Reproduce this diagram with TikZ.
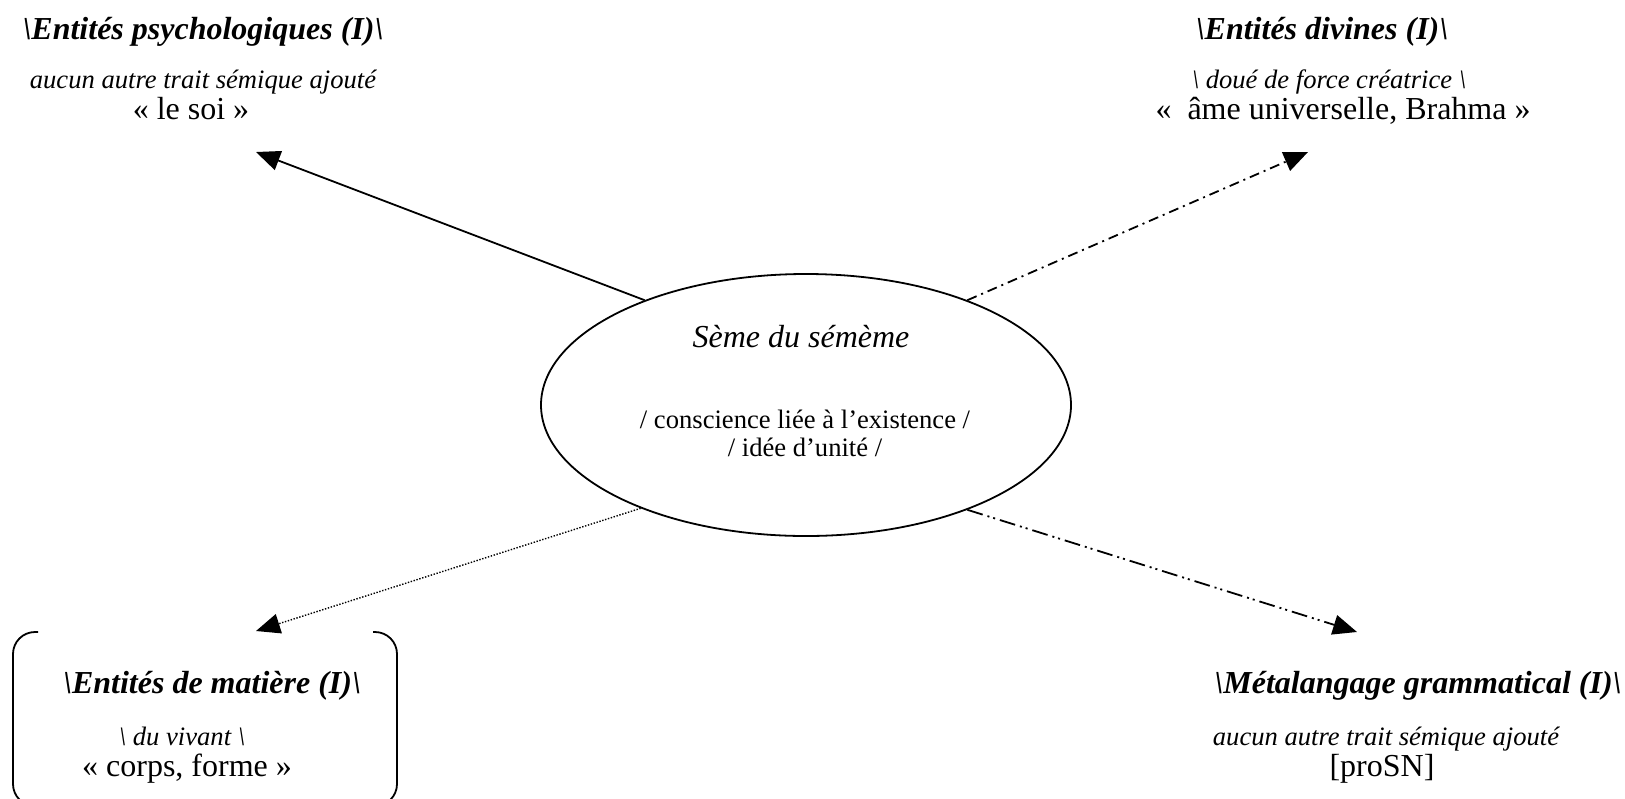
\documentclass[tikz,border=0pt]{standalone}
\usepackage{fontspec}
\setmainfont{Liberation Serif}
\usepackage{tikz}
\usetikzlibrary{arrows.meta,shapes.geometric}

\tikzset{
  titre/.style={font=\fontsize{16}{19}\selectfont\bfseries\itshape, anchor=base, inner sep=0pt},
  trait/.style={font=\fontsize{13.3}{16}\selectfont\itshape, anchor=base, inner sep=0pt},
  lexeme/.style={font=\fontsize{16}{19}\selectfont, anchor=base, inner sep=0pt},
  sens/.style={font=\fontsize{13.3}{16}\selectfont, anchor=base, inner sep=0pt},
  fleche/.style={-{Triangle[length=12pt,width=10pt]}, line width=0.9pt},
}

\begin{document}
\begin{tikzpicture}[x=0.5pt, y=-0.5pt]
        
        \useasboundingbox (0,0) rectangle (1625,798);
        
        % seme central
        \node[draw, ellipse, line width=0.9pt, minimum width=265pt, minimum height=131pt, inner sep=0pt] (seme) at (806,405) {};
        \node[trait, font=\fontsize{16}{19}\selectfont\itshape] (semeTitre) at (801,347) {Sème du sémème};
        \node[sens] (trait1) at (805,428) {/ conscience liée à l’existence /};
        \node[sens] (trait2) at (805,456) {/ idée d’unité /};
        
        % entites psychologiques
        \node[titre] (psyTitre) at (203,39) {\textbackslash Entités psychologiques (I)\textbackslash};
        \node[trait] (psyTrait) at (203,88) {aucun autre trait sémique ajouté};
        \node[lexeme] (psyLex) at (191,119) {« le soi »};
        
        % entites divines
        \node[titre] (divTitre) at (1322,39) {\textbackslash Entités divines (I)\textbackslash};
        \node[trait] (divTrait) at (1329,88) {\textbackslash{} doué de force créatrice \textbackslash};
        \node[lexeme] (divLex) at (1343,119) {«~~âme universelle, Brahma »};
        
        % entites de matiere
        \draw[line width=0.9pt, rounded corners=11pt] (38,632) -- (13,632) -- (13,806) -- (38,806);
        \draw[line width=0.9pt, rounded corners=11pt] (373,632) -- (397,632) -- (397,806) -- (373,806);
        \node[titre] (matTitre) at (212,693) {\textbackslash Entités de matière (I)\textbackslash};
        \node[trait] (matTrait) at (182,745) {\textbackslash{} du vivant \textbackslash};
        \node[lexeme] (matLex) at (187,776) {« corps, forme »};
        
        % metalangage
        \node[titre] (metaTitre) at (1418,693) {\textbackslash Métalangage grammatical (I)\textbackslash};
        \node[trait] (metaTrait) at (1386,745) {aucun autre trait sémique ajouté};
        \node[lexeme] (metaLex) at (1382,776) {[proSN]};
        
        % fleches
        \coordinate (psy) at (256,152);
        \coordinate (div) at (1308,152);
        \coordinate (mat) at (256,631);
        \coordinate (meta) at (1357,632);
        
        \draw[fleche] (seme.147) -- (psy);
        \draw[fleche, dash pattern=on 5pt off 2.5pt on 1pt off 2.5pt] (seme.33) -- (div);
        \draw[fleche, line width=0.7pt, dash pattern=on 0.7pt off 0.8pt] (seme.212) -- (mat);
        \draw[fleche, dash pattern=on 8pt off 2.5pt on 1pt off 2pt on 1pt off 2.5pt] (seme.327) -- (meta);
        
\end{tikzpicture}
\end{document}
